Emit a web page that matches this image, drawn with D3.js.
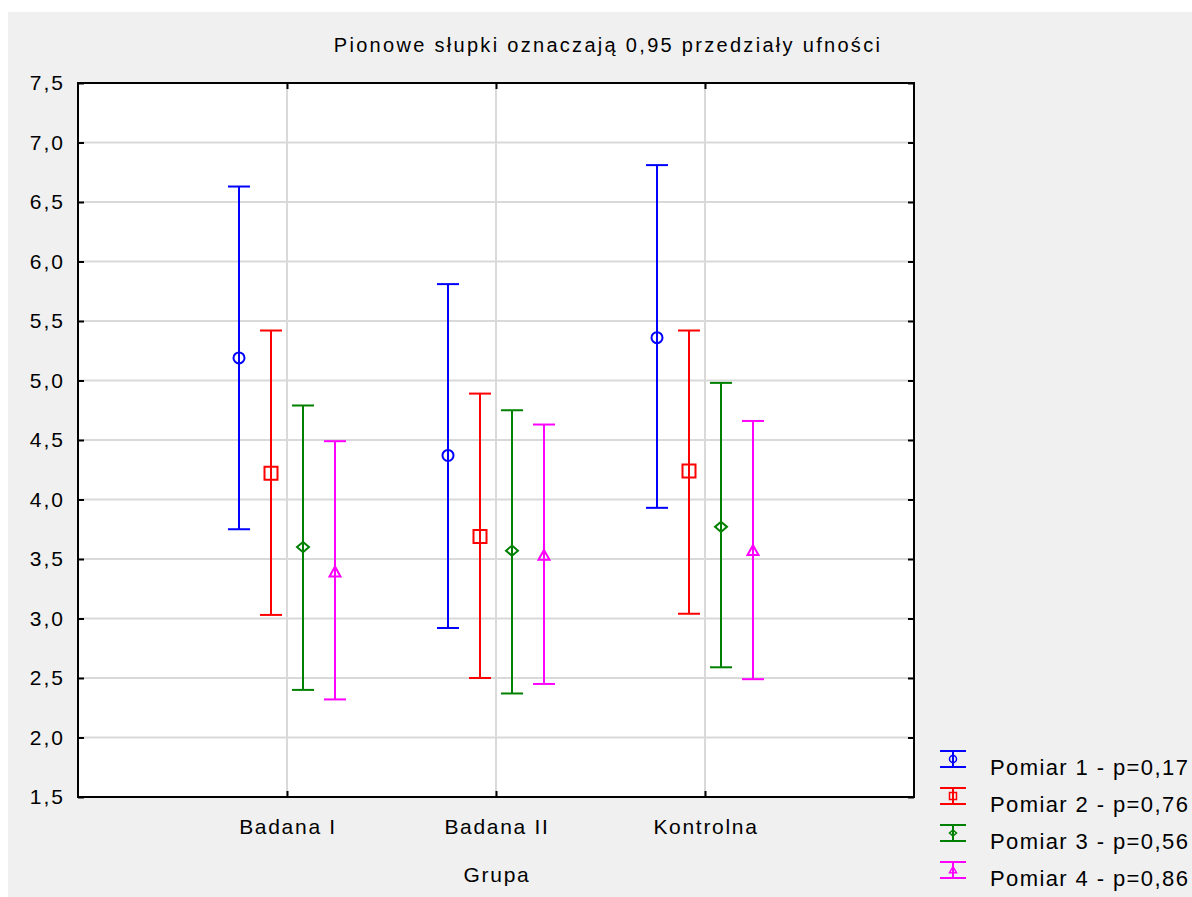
<!DOCTYPE html>
<html>
<head>
<meta charset="utf-8">
<script src="https://cdn.jsdelivr.net/npm/d3@7"></script>
<style>
  body { margin: 0; background: #fff; }
  text { font-family: "Liberation Sans", Arial, sans-serif; fill: #000; }
</style>
</head>
<body>
<svg id="chart"></svg>
<script>
// groups on x axis
const groups = ["Badana I", "Badana II", "Kontrolna"];
const seriesNames = ["Pomiar 1 - p=0,17", "Pomiar 2 - p=0,76", "Pomiar 3 - p=0,56", "Pomiar 4 - p=0,86"];
const colors = ["#0000ff", "#ff0000", "#008000", "#ff00ff"];
const shapes = ["circle", "square", "diamond", "triangle"];

// means and 0.95 CI bounds, one row per series, one column per group
const means = [
  [5.19, 4.37, 5.36],
  [4.22, 3.69, 4.24],
  [3.60, 3.57, 3.77],
  [3.39, 3.53, 3.57]
];
const upper = [
  [6.63, 5.81, 6.81],
  [5.42, 4.89, 5.42],
  [4.79, 4.75, 4.98],
  [4.49, 4.63, 4.66]
];
const lower = [
  [3.75, 2.92, 3.93],
  [3.03, 2.50, 3.04],
  [2.40, 2.37, 2.59],
  [2.32, 2.45, 2.49]
];
const yTicks = [1.5, 2.0, 2.5, 3.0, 3.5, 4.0, 4.5, 5.0, 5.5, 6.0, 6.5, 7.0, 7.5];

const W = 1192, H = 897;
const plot = { left: 78, right: 914, top: 83, bottom: 797 };

const svg = d3.select("#chart").attr("width", W).attr("height", H);

// gray panel
svg.append("rect").attr("x", 8).attr("y", 12).attr("width", W - 8).attr("height", H - 12).attr("fill", "#f0f0f0");
svg.append("rect")
   .attr("x", plot.left).attr("y", plot.top)
   .attr("width", plot.right - plot.left).attr("height", plot.bottom - plot.top)
   .attr("fill", "#fff");

const x = d3.scalePoint().domain(groups).range([plot.left, plot.right]).padding(1);
const off = d3.scalePoint().domain(d3.range(seriesNames.length)).range([-48, 48]);
const y = d3.scaleLinear().domain([1.5, 7.5]).range([plot.bottom, plot.top]);

const fmt = v => d3.format(".1f")(v).replace(".", ",");

// grid
svg.selectAll(".hgrid")
   .data(yTicks.slice(1, -1))
   .enter().append("line")
   .attr("x1", plot.left).attr("x2", plot.right)
   .attr("y1", d => y(d)).attr("y2", d => y(d))
   .attr("stroke", "#d9d9d9").attr("stroke-width", 2);
svg.selectAll(".vgrid")
   .data(groups)
   .enter().append("line")
   .attr("x1", d => x(d)).attr("x2", d => x(d))
   .attr("y1", plot.top).attr("y2", plot.bottom)
   .attr("stroke", "#d9d9d9").attr("stroke-width", 2);

// axes (ticks inward)
const yAxisL = svg.append("g").attr("transform", `translate(${plot.left},0)`)
   .call(d3.axisRight(y).tickValues(yTicks).tickSize(6).tickFormat(""));
const yAxisR = svg.append("g").attr("transform", `translate(${plot.right},0)`)
   .call(d3.axisLeft(y).tickValues(yTicks).tickSize(6).tickFormat(""));
const xAxisB = svg.append("g").attr("transform", `translate(0,${plot.bottom})`)
   .call(d3.axisTop(x).tickSize(6).tickFormat(""));
const xAxisT = svg.append("g").attr("transform", `translate(0,${plot.top})`)
   .call(d3.axisBottom(x).tickSize(6).tickFormat(""));
[yAxisL, yAxisR, xAxisB, xAxisT].forEach(g => {
  g.select(".domain").remove();
  g.selectAll(".tick line").attr("stroke", "#000").attr("stroke-width", 2);
});

// tick labels
svg.selectAll(".ylab")
   .data(yTicks)
   .enter().append("text")
   .attr("x", 65).attr("y", d => y(d) + 7)
   .attr("text-anchor", "end")
   .attr("font-size", 21)
   .attr("letter-spacing", 2)
   .text(fmt);
svg.selectAll(".xlab")
   .data(groups)
   .enter().append("text")
   .attr("x", d => x(d) + 1).attr("y", 834)
   .attr("text-anchor", "middle")
   .attr("font-size", 21)
   .attr("letter-spacing", 1.7)
   .text(d => d);

svg.append("text").attr("x", 497).attr("y", 882).attr("text-anchor", "middle")
   .attr("font-size", 21).attr("letter-spacing", 1.7).text("Grupa");
svg.append("text").attr("x", 608).attr("y", 52).attr("text-anchor", "middle")
   .attr("font-size", 20).attr("letter-spacing", 2.3)
   .text("Pionowe słupki oznaczają 0,95 przedziały ufności");

// marker path generator
function markerPath(shape, s) {
  if (shape === "circle") return d3.symbol(d3.symbolCircle, Math.PI * s * s)();
  if (shape === "square") return `M${-s},${-s}H${s}V${s}H${-s}Z`;
  if (shape === "diamond") return `M0,${-s * 0.85}L${s},0L0,${s * 0.85}L${-s},0Z`;
  return `M0,${-s}L${s},${s * 0.8}H${-s}Z`;
}
const markerSize = [5.5, 6.5, 6, 5.5];

// error bars
const cap = 11;
const pts = [];
seriesNames.forEach((name, si) => {
  groups.forEach((g, gi) => {
    pts.push({ si, cx: x(g) + off(si), m: means[si][gi], lo: lower[si][gi], hi: upper[si][gi] });
  });
});

const bars = svg.selectAll(".bar")
   .data(pts)
   .enter().append("g")
   .attr("stroke", d => colors[d.si])
   .attr("stroke-width", 2)
   .attr("fill", "none");
bars.append("line")
   .attr("x1", d => d.cx).attr("x2", d => d.cx)
   .attr("y1", d => y(d.hi)).attr("y2", d => y(d.lo));
bars.append("line")
   .attr("x1", d => d.cx - cap).attr("x2", d => d.cx + cap)
   .attr("y1", d => y(d.hi)).attr("y2", d => y(d.hi));
bars.append("line")
   .attr("x1", d => d.cx - cap).attr("x2", d => d.cx + cap)
   .attr("y1", d => y(d.lo)).attr("y2", d => y(d.lo));
bars.append("path")
   .attr("transform", d => `translate(${d.cx},${y(d.m)})`)
   .attr("d", d => markerPath(shapes[d.si], markerSize[d.si]));

// plot frame
svg.append("rect")
   .attr("x", plot.left).attr("y", plot.top)
   .attr("width", plot.right - plot.left).attr("height", plot.bottom - plot.top)
   .attr("fill", "none").attr("stroke", "#000").attr("stroke-width", 2);

// legend
const legend = svg.selectAll(".leg")
   .data(seriesNames)
   .enter().append("g")
   .attr("transform", (d, i) => `translate(953,${759 + i * 37})`);
legend.append("g")
   .attr("stroke", (d, i) => colors[i]).attr("stroke-width", 2).attr("fill", "none")
   .each(function(d, i) {
     const g = d3.select(this);
     g.append("line").attr("x1", 0).attr("x2", 0).attr("y1", -8).attr("y2", 8);
     g.append("line").attr("x1", -13).attr("x2", 13).attr("y1", -8).attr("y2", -8);
     g.append("line").attr("x1", -13).attr("x2", 13).attr("y1", 8).attr("y2", 8);
     g.append("path").attr("stroke-width", 1.5).attr("d", markerPath(shapes[i], 3.5));
   });
legend.append("text")
   .attr("x", 37).attr("y", 16)
   .attr("font-size", 22)
   .attr("letter-spacing", 1.4)
   .text(d => d);
</script>
</body>
</html>
